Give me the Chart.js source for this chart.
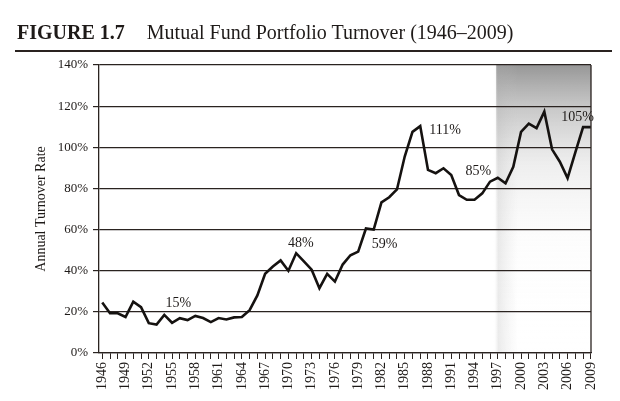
<!DOCTYPE html>
<html>
<head>
<meta charset="utf-8">
<script src="https://cdn.jsdelivr.net/npm/chart.js@4"></script>
<style>
  html, body { margin: 0; padding: 0; background: #fff; }
  #wrap { position: relative; width: 620px; height: 401px; overflow: hidden; }
  #title {
    position: absolute; left: 15px; top: 21px; width: 597px; height: 29px;
    border-bottom: 2px solid #2a2320;
    font-family: "Liberation Serif", "DejaVu Serif", serif; font-size: 20px; color: #1e1a18;
    white-space: nowrap;
  }
  #title b { margin-left: 2px; margin-right: 22px; }
  canvas { position: absolute; left: 0; top: 0; }
</style>
</head>
<body>
<div id="wrap">
  <canvas id="chart" width="620" height="401"></canvas>
  <div id="title"><b>FIGURE 1.7</b>Mutual Fund Portfolio Turnover (1946–2009)</div>
</div>
<script>
// data
const years = [];
for (let y = 1946; y <= 2009; y++) years.push(y);

const turnover = [
  24.5, 19.3, 19.3, 17.5, 25.0, 22.3, 14.5, 13.8, 18.5, 14.7,
  16.9, 16.0, 18.0, 17.0, 15.0, 17.0, 16.3, 17.3, 17.5, 20.8,
  28.0, 38.5, 42.0, 45.0, 40.0, 48.5, 44.5, 40.5, 31.5, 38.5,
  34.7, 43.0, 47.5, 49.3, 60.5, 60.0, 73.2, 75.7, 79.5, 95.5,
  107.5, 110.3, 89.0, 87.4, 89.8, 86.5, 76.8, 74.5, 74.5, 77.6,
  83.3, 85.2, 82.5, 90.5, 107.5, 111.5, 109.3, 117.3, 99.0, 93.0,
  85.0, 97.5, 109.8, 109.8
];

const yTicks = [0, 20, 40, 60, 80, 100, 120, 140];

// callout labels and where they sit (year, value)
const noteText = ["15%", "48%", "59%", "111%", "85%", "105%"];
const noteYear = [1955.8, 1971.6, 1982.4, 1990.2, 1994.5, 2007.3];
const noteValue = [24.0, 53.3, 53.0, 108.4, 88.1, 114.6];

const shadeFrom = 1996.8;

const serif = '"Liberation Serif", "DejaVu Serif", serif';
const ink = "#2a2320";

const shadePlugin = {
  id: "shade",
  beforeDraw(chart) {
    const { ctx, chartArea, scales } = chart;
    const x0 = scales.x.getPixelForValue(shadeFrom);
    const x1 = chartArea.right;
    const top = chartArea.top, bottom = chartArea.bottom;
    ctx.save();
    let g = ctx.createLinearGradient(0, top, 0, bottom);
    g.addColorStop(0, "rgba(125,125,125,0.80)");
    g.addColorStop(0.14, "rgba(150,150,150,0.55)");
    g.addColorStop(0.35, "rgba(190,190,190,0.25)");
    g.addColorStop(0.6, "rgba(220,220,220,0.08)");
    g.addColorStop(1, "rgba(255,255,255,0)");
    ctx.fillStyle = g;
    ctx.fillRect(x0, top, x1 - x0, bottom - top);
    // soft strip along the left edge of the shaded block
    g = ctx.createLinearGradient(x0 - 3, 0, x0 + 22, 0);
    g.addColorStop(0, "rgba(255,255,255,0)");
    g.addColorStop(0.2, "rgba(175,175,175,0.25)");
    g.addColorStop(1, "rgba(200,200,200,0)");
    ctx.fillStyle = g;
    ctx.fillRect(x0 - 3, top, 25, bottom - top);
    ctx.restore();
  },
  afterDatasetsDraw(chart) {
    const { ctx, chartArea, scales } = chart;
    ctx.save();
    ctx.strokeStyle = ink;
    ctx.lineWidth = 1.3;
    ctx.beginPath();
    ctx.moveTo(chartArea.right, chartArea.top);
    ctx.lineTo(chartArea.right, chartArea.bottom);
    ctx.stroke();
    ctx.fillStyle = "#1e1a18";
    ctx.font = "14px " + serif;
    ctx.textAlign = "center";
    ctx.textBaseline = "middle";
    noteText.forEach((t, i) => {
      ctx.fillText(t, scales.x.getPixelForValue(noteYear[i]), scales.y.getPixelForValue(noteValue[i]));
    });
    ctx.restore();
  }
};

new Chart(document.getElementById("chart"), {
  type: "line",
  data: {
    datasets: [{
      data: years.map((y, i) => ({ x: y, y: turnover[i] })),
      borderColor: "#151210",
      borderWidth: 2.6,
      pointRadius: 0,
      tension: 0,
      fill: false
    }]
  },
  options: {
    responsive: false,
    animation: false,
    layout: { padding: { top: 65, right: 29, bottom: 0, left: 0 } },
    plugins: { legend: { display: false }, tooltip: { enabled: false } },
    scales: {
      x: {
        type: "linear",
        min: 1945.58,
        max: 2009.02,
        afterFit: (s) => { s.height = 48; },
        afterBuildTicks: (s) => { s.ticks = years.map((y) => ({ value: y })); },
        grid: { drawOnChartArea: false, drawTicks: true, tickLength: 6, color: ink, lineWidth: 1 },
        border: { display: true, color: ink, width: 1.3 },
        ticks: {
          autoSkip: false,
          minRotation: 90,
          maxRotation: 90,
          padding: 3,
          color: "#1e1a18",
          font: { family: serif, size: 14 },
          callback: (v) => ((Math.round(v) - 1946) % 3 === 0 ? String(Math.round(v)) : "")
        }
      },
      y: {
        min: 0,
        max: 140,
        afterFit: (s) => { s.width = 99; },
        afterBuildTicks: (s) => { s.ticks = yTicks.map((v) => ({ value: v })); },
        grid: { color: ink, lineWidth: 1.2, tickLength: 6 },
        border: { display: true, color: ink, width: 1.3 },
        ticks: {
          padding: 5,
          color: "#1e1a18",
          font: { family: serif, size: 13 },
          callback: (v) => v + "%"
        },
        title: {
          display: true,
          text: "Annual Turnover Rate",
          color: "#1e1a18",
          font: { family: serif, size: 14 },
          padding: { top: 33, bottom: 0 }
        }
      }
    }
  },
  plugins: [shadePlugin]
});
</script>
</body>
</html>
